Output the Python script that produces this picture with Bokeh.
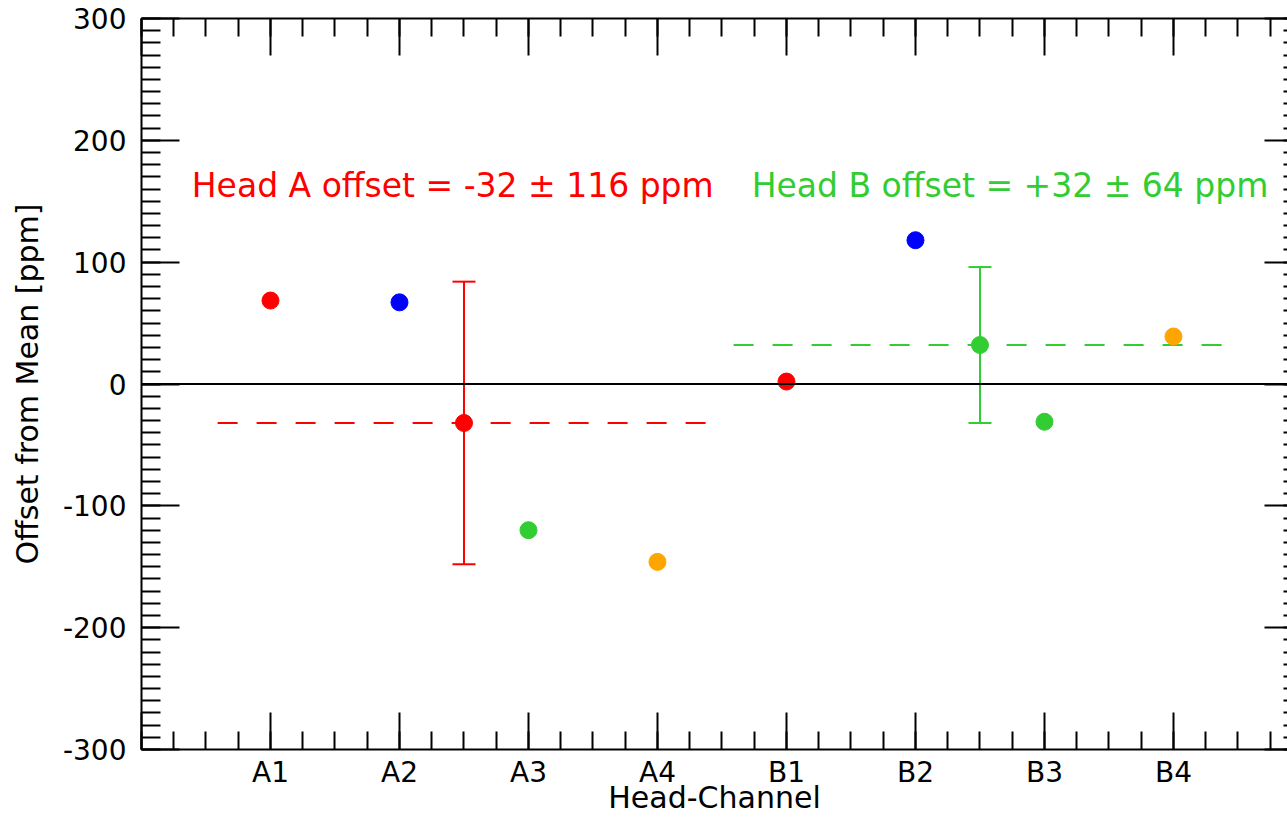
from bokeh.plotting import figure
from bokeh.models import (FixedTicker, LinearAxis, Label, Whisker, TeeHead,
                          ColumnDataSource, Span, Range1d)
from bokeh.embed import file_html
from bokeh.resources import INLINE

# ---- data ----
channels = ["A1", "A2", "A3", "A4", "B1", "B2", "B3", "B4"]
channel_pos = [1, 2, 3, 4, 5, 6, 7, 8]
offsets = [68.5, 67, -120, -146, 2, 118, -31, 39]
point_colors = ["#ff0000", "#0000ff", "#32cd32", "#ffa500",
                "#ff0000", "#0000ff", "#32cd32", "#ffa500"]

heads = ["A", "B"]
head_pos = [2.5, 6.5]
head_mean = [-32, 32]
head_err = [116, 64]
head_colors = ["#ff0000", "#32cd32"]
head_line_start = [0.59, 4.59]
head_line_end = [4.4, 8.4]
head_texts = ["Head A offset = -32 \u00b1 116 ppm", "Head B offset = +32 \u00b1 64 ppm"]
head_text_x = [0.39, 4.73]
head_text_y = [163, 163]

y_ticks = [-300, -200, -100, 0, 100, 200, 300]
y_tick_labels = ["-300", "-200", "-100", "0", "100", "200", "300"]
y_minor = list(range(-300, 301, 10))
x_ticks = list(range(0, 10))
x_minor = [i * 0.25 for i in range(37)]

FONT = "DejaVu Sans"

p = figure(width=1287, height=817, x_range=Range1d(0, 8.884), y_range=Range1d(-300, 300),
           output_backend="svg", toolbar_location=None,
           min_border_left=141, min_border_right=0, min_border_top=18, min_border_bottom=68)
p.outline_line_color = None
p.xgrid.visible = False
p.ygrid.visible = False
p.background_fill_color = "white"
p.border_fill_color = "white"

xt = FixedTicker(ticks=x_ticks, minor_ticks=x_minor)
yt = FixedTicker(ticks=y_ticks, minor_ticks=y_minor)

x_overrides = {0: "", 9: ""}
for pos, ch in zip(channel_pos, channels):
    x_overrides[pos] = ch
y_overrides = {t: s for t, s in zip(y_ticks, y_tick_labels)}

def style(ax, tick_major, tick_minor):
    ax.major_tick_in = tick_major
    ax.major_tick_out = 0
    ax.minor_tick_in = tick_minor
    ax.minor_tick_out = 0
    ax.major_tick_line_width = 2
    ax.minor_tick_line_width = 2
    ax.major_tick_line_color = "black"
    ax.minor_tick_line_color = "black"
    ax.axis_line_width = 2
    ax.axis_line_color = "black"
    ax.major_label_text_font = FONT
    ax.major_label_text_font_size = "28px"
    ax.major_label_text_color = "black"
    ax.axis_label_text_font = FONT
    ax.axis_label_text_font_size = "30px"
    ax.axis_label_text_font_style = "normal"
    ax.axis_label_text_color = "black"

xa = p.xaxis[0]
xa.ticker = xt
xa.major_label_overrides = x_overrides
xa.axis_label = "Head-Channel"
style(xa, 37, 18)
xa.major_label_standoff = 6
xa.axis_label_standoff = -12

ya = p.yaxis[0]
ya.ticker = yt
ya.major_label_overrides = y_overrides
ya.axis_label = "Offset from Mean [ppm]"
style(ya, 38, 19)
ya.major_label_standoff = 15
ya.axis_label_standoff = 15

top = LinearAxis(ticker=FixedTicker(ticks=x_ticks, minor_ticks=x_minor))
style(top, 37, 18)
top.major_label_text_font_size = "0px"
top.major_label_standoff = 0
p.add_layout(top, "above")

right = LinearAxis(ticker=FixedTicker(ticks=y_ticks, minor_ticks=y_minor))
style(right, 23, 4)
right.axis_line_color = None
right.major_label_text_font_size = "0px"
right.major_label_standoff = 0
p.add_layout(right, "right")

p.add_layout(Span(location=0, dimension="width", line_color="black", line_width=2))

p.segment(x0=head_line_start, x1=head_line_end, y0=head_mean, y1=head_mean,
          line_color=head_colors, line_width=2, line_dash="20 19")

for i in range(2):
    s = ColumnDataSource(dict(x=[head_pos[i]],
                              lo=[head_mean[i] - head_err[i]],
                              hi=[head_mean[i] + head_err[i]]))
    w = Whisker(source=s, base="x", lower="lo", upper="hi",
                line_color=head_colors[i], line_width=2,
                upper_head=TeeHead(size=23, line_color=head_colors[i], line_width=2),
                lower_head=TeeHead(size=23, line_color=head_colors[i], line_width=2))
    p.add_layout(w)

src_h = ColumnDataSource(dict(x=head_pos, y=head_mean, c=head_colors))
p.scatter(x="x", y="y", color="c", size=17, source=src_h)

src = ColumnDataSource(dict(x=channel_pos, y=offsets, c=point_colors))
p.scatter(x="x", y="y", color="c", size=17, source=src)

for t, tx, ty, c in zip(head_texts, head_text_x, head_text_y, head_colors):
    p.add_layout(Label(x=tx, y=ty, text=t, text_color=c, text_font=FONT,
                       text_font_size="33px", text_baseline="middle", text_align="left"))

open("out.html", "w").write(file_html(p, INLINE))
